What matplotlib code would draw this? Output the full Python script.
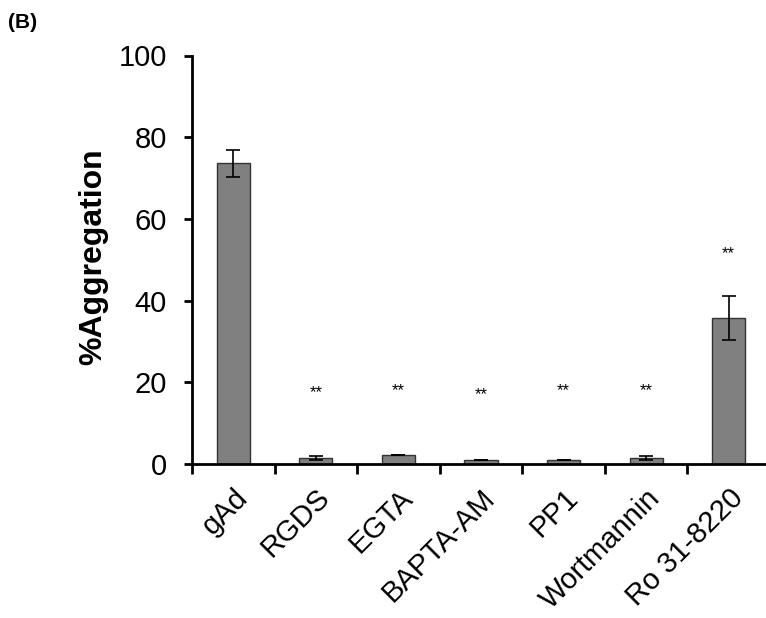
import numpy as np
import matplotlib.pyplot as plt

plt.rcParams['font.family'] = ['Liberation Sans', 'DejaVu Sans']

# данные
categories = ["gAd", "RGDS", "EGTA", "BAPTA-AM", "PP1", "Wortmannin", "Ro 31-8220"]
values = [73.6, 1.5, 2.2, 1.0, 1.0, 1.5, 35.7]
errors = [3.3, 0.4, 0.0, 0.0, 0.0, 0.4, 5.4]
star_y = [None, 17.5, 18.0, 17.0, 18.0, 18.0, 51.5]

fig = plt.figure(figsize=(7.66, 6.18), dpi=100)
ax = fig.add_axes([192 / 766, 154 / 618, 578 / 766, 408.5 / 618])

x = np.arange(len(categories))
ax.bar(x, values, width=0.4, color="#808080", edgecolor="#333333", linewidth=1.0, zorder=2)
ax.errorbar(x, values, yerr=errors, fmt="none", ecolor="black", elinewidth=1.2,
            capsize=5, capthick=1.2, zorder=3)

for xi, sy in zip(x, star_y):
    if sy is not None:
        ax.text(xi, sy, "**", ha="center", va="center", fontsize=12)

ax.set_xlim(-0.5, len(categories) - 0.5)
ax.set_ylim(0, 100)
ax.set_yticks([0, 20, 40, 60, 80, 100])
ax.tick_params(axis="y", labelsize=21, direction="out", length=6, width=2, pad=12)

# деления по оси X на границах категорий
ax.set_xticks(np.arange(len(categories)) - 0.5)
ax.set_xticklabels([])
ax.set_xticks(x, minor=True)
ax.set_xticklabels(categories, minor=True, rotation=45, ha="right",
                   rotation_mode="anchor", fontsize=21)
ax.tick_params(axis="x", which="major", direction="out", length=7, width=2)
ax.tick_params(axis="x", which="minor", length=0, pad=14)

for side in ["top", "right"]:
    ax.spines[side].set_visible(False)
for side in ["left", "bottom"]:
    ax.spines[side].set_linewidth(2)

ax.set_ylabel("%Aggregation", fontsize=23, fontweight="bold")
ax.yaxis.set_label_coords(-0.145, 0.507)
fig.text(8 / 766, 1 - 22 / 618, "(B)", fontsize=15, fontweight="bold", va="center")

plt.savefig("out.png", dpi=100)
